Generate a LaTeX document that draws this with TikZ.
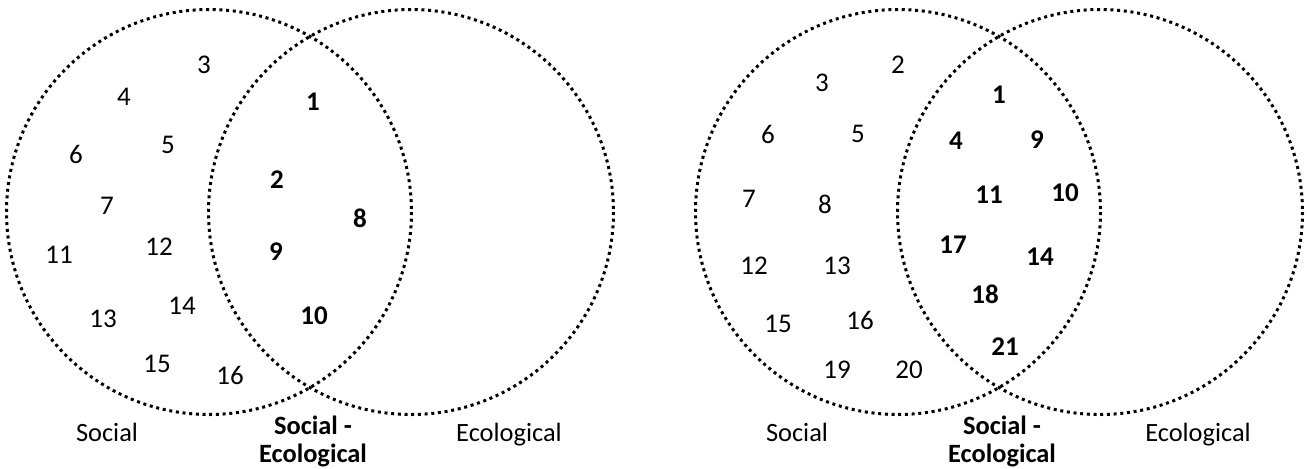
\documentclass[tikz,border=0pt]{standalone}
\usepackage{fontspec}
\setmainfont{Carlito}
\tikzset{
  ring/.style={draw=black, line width=1.5pt, dash pattern=on 1.5pt off 1.85pt},
  num/.style={font=\fontsize{13.5}{16}\selectfont, inner sep=0pt},
  numb/.style={num, font=\fontsize{13.5}{16}\selectfont\bfseries},
  lab/.style={font=\fontsize{13.2}{16}\selectfont, anchor=base, inner sep=0pt},
  labb/.style={font=\fontsize{13.2}{13.9}\selectfont\bfseries, anchor=base, align=center, inner sep=0pt},
}

\begin{document}
\begin{tikzpicture}[x=0.5pt, y=-0.5pt]
  \def\r{202.5}
  \useasboundingbox (0,0) rectangle (1307,468);

  % left diagram
  \coordinate (socA) at (209,212);
  \coordinate (ecoA) at (411,212);
  \draw[ring] (socA) circle[radius=\r];
  \draw[ring] (ecoA) circle[radius=\r];
  \foreach \n/\x/\y in {3/204/65, 4/124/97, 6/76/154, 5/168/145, 7/107/206,
      11/59/255, 12/159/247, 13/103/319, 14/182/306, 15/157/364, 16/230/375}
    \node[num] (a\n) at (\x,\y) {\n};
  \foreach \n/\x/\y in {1/313/102, 2/277/180, 8/360/218, 9/276/252, 10/314/316}
    \node[numb] (a\n) at (\x,\y) {\n};
  \node[lab] (socLabA) at (107,441) {Social};
  \node[labb] (bothLabA) at (313,462) {Social -\\Ecological};
  \node[lab] (ecoLabA) at (509,441) {Ecological};

  % right diagram
  \coordinate (socB) at (898,212);
  \coordinate (ecoB) at (1100,212);
  \draw[ring] (socB) circle[radius=\r];
  \draw[ring] (ecoB) circle[radius=\r];
  \foreach \n/\x/\y in {2/898/65, 3/822/83, 6/768/134, 5/858/134, 7/749/199,
      8/825/204, 12/754/266, 13/837/266, 15/778/324, 16/860/320, 19/837/370, 20/909/370}
    \node[num] (b\n) at (\x,\y) {\n};
  \foreach \n/\x/\y in {1/999/95, 4/956/141, 9/1037/140, 11/989/195, 10/1065/193,
      17/953/245, 14/1040/257, 18/985/294, 21/1005/347}
    \node[numb] (b\n) at (\x,\y) {\n};
  \node[lab] (socLabB) at (797,441) {Social};
  \node[labb] (bothLabB) at (1002,462) {Social -\\Ecological};
  \node[lab] (ecoLabB) at (1198,441) {Ecological};
\end{tikzpicture}
\end{document}
